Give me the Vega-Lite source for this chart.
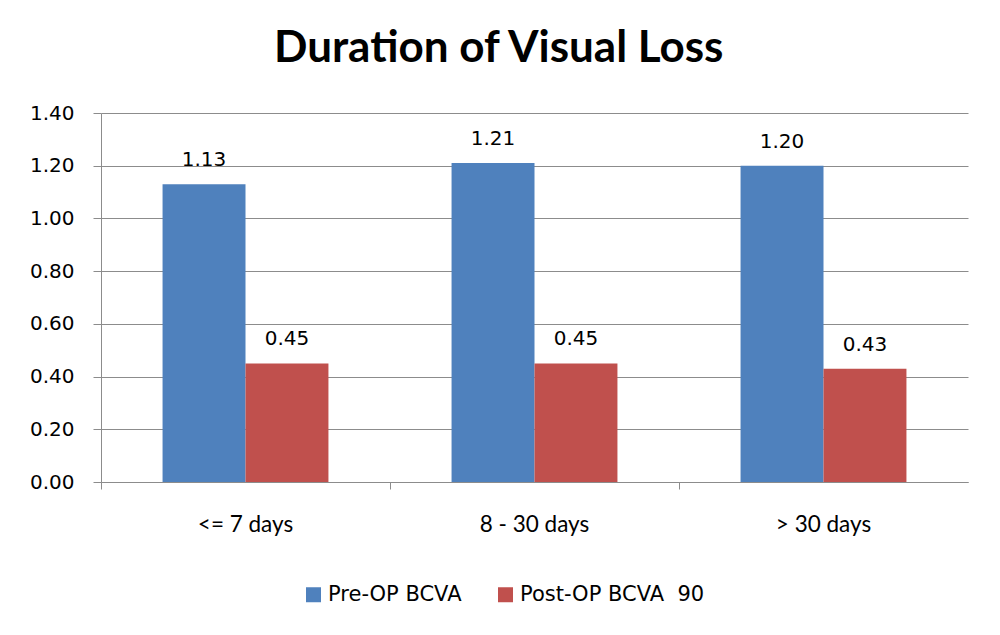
{
  "$schema": "https://vega.github.io/schema/vega-lite/v6.json",
  "autosize": "none",
  "width": 867,
  "height": 369,
  "padding": {"left": 101, "top": 113, "right": 32, "bottom": 153},
  "background": "white",
  "title": {
    "text": "Duration of Visual Loss",
    "font": "Lato",
    "fontSize": 44,
    "fontWeight": "bold",
    "color": "black",
    "anchor": "middle",
    "frame": "bounds",
    "offset": 32
  },
  "config": {
    "view": {"stroke": null},
    "axis": {"gridColor": "#8c8c8c", "domainColor": "#8c8c8c", "tickColor": "#8c8c8c"}
  },
  "data": {
    "values": [
      {"duration": "<= 7 days", "measure": "Pre-OP BCVA", "value": 1.13},
      {"duration": "<= 7 days", "measure": "Post-OP BCVA  90", "value": 0.45},
      {"duration": "8 - 30 days", "measure": "Pre-OP BCVA", "value": 1.21},
      {"duration": "8 - 30 days", "measure": "Post-OP BCVA  90", "value": 0.45},
      {"duration": "> 30 days", "measure": "Pre-OP BCVA", "value": 1.20},
      {"duration": "> 30 days", "measure": "Post-OP BCVA  90", "value": 0.43}
    ]
  },
  "encoding": {
    "x": {
      "field": "duration",
      "type": "nominal",
      "sort": ["<= 7 days", "8 - 30 days", "> 30 days"],
      "scale": {"paddingInner": 0.426, "paddingOuter": 0.213},
      "axis": {
        "title": null,
        "labelAngle": 0,
        "labelFont": "Lato",
        "labelFontSize": 22.5,
        "labelColor": "black",
        "bandPosition": -0.371,
        "tickSize": 7,
        "labelPadding": 24,
        "grid": false
      }
    },
    "xOffset": {
      "field": "measure",
      "type": "nominal",
      "sort": ["Pre-OP BCVA", "Post-OP BCVA  90"],
      "scale": {"paddingInner": 0, "paddingOuter": 0}
    },
    "y": {
      "field": "value",
      "type": "quantitative",
      "scale": {"domain": [0, 1.4]},
      "axis": {
        "title": null,
        "values": [0, 0.2, 0.4, 0.6, 0.8, 1.0, 1.2, 1.4],
        "format": ".2f",
        "labelFont": "DejaVu Sans",
        "labelFontSize": 20,
        "labelColor": "black",
        "tickSize": 8,
        "labelPadding": 19,
        "grid": true
      }
    }
  },
  "layer": [
    {
      "mark": {"type": "bar"},
      "encoding": {
        "color": {
          "field": "measure",
          "type": "nominal",
          "sort": ["Pre-OP BCVA", "Post-OP BCVA  90"],
          "scale": {"domain": ["Pre-OP BCVA", "Post-OP BCVA  90"], "range": ["#4F81BD", "#C0504D"]},
          "legend": {
            "title": null,
            "orient": "none",
            "direction": "horizontal",
            "legendX": 202,
            "legendY": 471,
            "symbolType": "square",
            "symbolSize": 225,
            "symbolStrokeWidth": 0,
            "labelFont": "DejaVu Sans",
            "labelFontSize": 21,
            "labelColor": "black",
            "labelOffset": 4,
            "columnPadding": 33,
            "labelLimit": 400,
            "labelExpr": "replace(datum.label, '  ', '\u00a0\u00a0')"
          }
        }
      }
    },
    {
      "mark": {"type": "text", "baseline": "alphabetic", "dy": -18, "font": "DejaVu Sans", "fontSize": 20, "color": "black"},
      "encoding": {
        "text": {"field": "value", "type": "quantitative", "format": ".2f"}
      }
    }
  ]
}
